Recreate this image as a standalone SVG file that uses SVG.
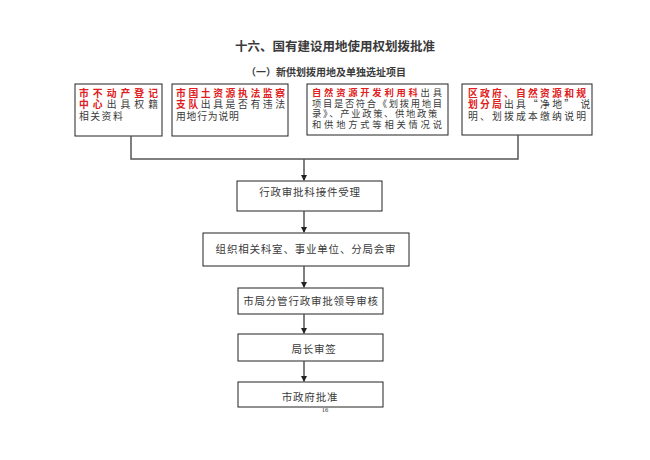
<svg xmlns="http://www.w3.org/2000/svg" width="650" height="460" viewBox="0 0 650 460">
<style>
.bg{fill:#fff}
.box{fill:#fff;stroke:#222;stroke-width:1}
.t{font-family:"Noto Sans CJK SC","Noto Sans",sans-serif;fill:#3a3a3a}
.bt{font-size:9.8px}
.r{fill:#e02020;font-weight:bold}
.c{font-size:10.5px;text-anchor:middle;letter-spacing:0.8px}
.ln{stroke:#555;stroke-width:1.5;fill:none}
</style>
<defs>
<marker id="ah" markerWidth="6" markerHeight="6" refX="5" refY="3" orient="auto" markerUnits="userSpaceOnUse">
<path d="M0,0 L6,3 L0,6 Z" fill="#222"/>
</marker>
</defs>
<rect class="bg" x="0" y="0" width="650" height="460"/>
<text class="t" x="335" y="51" font-size="12.5" font-weight="bold" text-anchor="middle" fill="#111">十六、国有建设用地使用权划拨批准</text>
<text class="t" x="326" y="76" font-size="10" font-weight="bold" text-anchor="middle" fill="#111">（一）新供划拨用地及单独选址项目</text>

<g id="node-1">
<rect class="box" x="75" y="84" width="87" height="52"/>
<text class="t bt"><tspan x="79" y="96.5" letter-spacing="4.04" class="r">市不动产登记</tspan><tspan x="79" y="108" letter-spacing="4.04"><tspan class="r">中心</tspan>出具权籍</tspan><tspan x="79" y="119.5" letter-spacing="1.5">相关资料</tspan></text>
</g>
<g id="node-2">
<rect class="box" x="172" y="84" width="116" height="52"/>
<text class="t bt"><tspan x="176" y="96.5" letter-spacing="2.6" class="r">市国土资源执法监察</tspan><tspan x="176" y="108" letter-spacing="2.6"><tspan class="r">支队</tspan>出具是否有违法</tspan><tspan x="176" y="119.5" letter-spacing="0.8">用地行为说明</tspan></text>
</g>
<g id="node-3">
<rect class="box" x="307" y="84" width="141" height="51"/>
<text class="t" font-size="9.3"><tspan x="312" y="96" letter-spacing="2.77"><tspan class="r">自然资源开发利用科</tspan>出具</tspan><tspan x="312" y="106.5" letter-spacing="1.67">项目是否符合《划拨用地目</tspan><tspan x="312" y="117" letter-spacing="1.67">录》、产业政策、供地政策</tspan><tspan x="312" y="127.5" letter-spacing="2.77">和供地方式等相关情况说</tspan></text>
</g>
<g id="node-4">
<rect class="box" x="462" y="84" width="130" height="51"/>
<text class="t bt"><tspan x="468" y="96.5" letter-spacing="2.22" class="r">区政府、自然资源和规</tspan><tspan x="468" y="108" letter-spacing="2.22"><tspan class="r">划分局</tspan>出具“净地” 说</tspan><tspan x="468" y="119.5" letter-spacing="2.22">明、划拨成本缴纳说明</tspan></text>
</g>

<g id="node-5">
<rect class="box" x="237" y="181" width="145" height="30"/>
<text class="t c" x="310" y="196">行政审批科接件受理</text>
</g>
<g id="node-6">
<rect class="box" x="203" y="233" width="206" height="33"/>
<text class="t c" x="306" y="253">组织相关科室、事业单位、分局会审</text>
</g>
<g id="node-7">
<rect class="box" x="238" y="288" width="145" height="26"/>
<text class="t c" x="311" y="305">市局分管行政审批领导审核</text>
</g>
<g id="node-8">
<rect class="box" x="238" y="334" width="145" height="27"/>
<text class="t c" x="314" y="353" letter-spacing="3">局长审签</text>
</g>
<g id="node-9">
<rect class="box" x="238" y="382" width="145" height="25"/>
<text class="t c" x="310" y="401" letter-spacing="1">市政府批准</text>
</g>

<g id="connectors">
<path class="ln" d="M131,136 V159 H518 V135"/>
<path class="ln" d="M304,159 V180" marker-end="url(#ah)"/>
<path class="ln" d="M304,211 V232" marker-end="url(#ah)"/>
<path class="ln" d="M304,266 V287" marker-end="url(#ah)"/>
<path class="ln" d="M304,314 V333" marker-end="url(#ah)"/>
<path class="ln" d="M304,361 V381" marker-end="url(#ah)"/>
</g>
<text x="325" y="412" font-family="Liberation Serif,serif" font-size="6.5" text-anchor="middle" fill="#333">16</text>
</svg>
